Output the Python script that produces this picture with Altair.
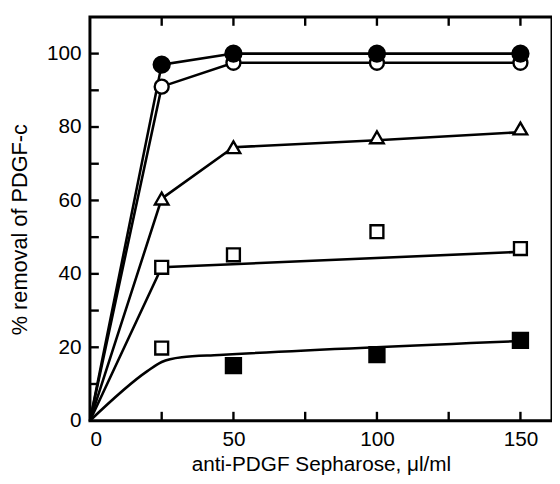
import altair as alt
import pandas as pd

# ---- data ----
x_pts = [0, 25, 50, 100, 150]
filled_circle = [0, 97, 100, 100, 100]
open_circle = [0, 91, 97.5, 97.5, 97.5]

tri_x = [25, 50, 100, 150]
tri_marker = [60.5, 74.5, 77.2, 79.6]
tri_line_x = [0, 25, 50, 100, 150]
tri_line = [0, 60.5, 74.5, 76.4, 78.6]

sq_up_x = [25, 50, 100, 150]
sq_up = [41.8, 45.2, 51.5, 46.9]
sq_up_line_x = [0, 25, 150]
sq_up_line = [0, 41.8, 46.0]

sq_lo_open_x = [25]
sq_lo_open = [19.8]
sq_lo_fill_x = [50, 100, 150]
sq_lo_fill = [15.0, 18.0, 21.9]
lo_curve_x = [0, 20, 25, 32, 45, 150]
lo_curve = [0, 13.5, 16.0, 17.3, 17.9, 21.7]

x_tick_vals = [25, 50, 75, 100, 125, 150]
y_tick_vals = [10, 20, 30, 40, 50, 60, 70, 80, 90, 100]
x_label_vals = [0, 50, 100, 150]
y_label_vals = [0, 20, 40, 60, 80, 100]

W, H = 468, 409
FONT = "Liberation Sans"

xs = alt.Scale(domain=[0, 161], nice=False, zero=False)
ys = alt.Scale(domain=[0, 110], nice=False, zero=False)

def df(xv, yv):
    return pd.DataFrame({"x": xv, "y": yv})

X = alt.X("x:Q", scale=xs,
          axis=alt.Axis(values=x_label_vals, title="anti-PDGF Sepharose, \u03bcl/ml",
                        ticks=False, domain=False, grid=False, labelFontSize=21,
                        labelPadding=8, titleFontSize=21, titleFontWeight="normal",
                        titlePadding=4, labelFont=FONT, titleFont=FONT,
                        labelColor="black", titleColor="black"))
Y = alt.Y("y:Q", scale=ys,
          axis=alt.Axis(values=y_label_vals, title="% removal of PDGF-c",
                        ticks=False, domain=False, grid=False, labelFontSize=21,
                        labelPadding=9, titleFontSize=22, titleFontWeight="normal",
                        titlePadding=15, labelFont=FONT, titleFont=FONT,
                        labelColor="black", titleColor="black", titleY=215))

LW = 2.6

def line(xv, yv, interp="linear"):
    return alt.Chart(df(xv, yv)).mark_line(color="black", strokeWidth=LW,
                                           interpolate=interp).encode(x=X, y=Y)

def pts(xv, yv, shape, filled, size):
    return alt.Chart(df(xv, yv)).mark_point(
        shape=shape, filled=True, size=size,
        fill="black" if filled else "white", stroke="black",
        strokeWidth=2.4, opacity=1).encode(x=X, y=Y)

# inward ticks
xt = pd.DataFrame({"x": x_tick_vals})
yt = pd.DataFrame({"y": y_tick_vals})
tick_bottom = alt.Chart(xt).mark_rule(color="black", strokeWidth=2.4).encode(
    x=X, y=alt.value(H), y2=alt.value(H - 9))
tick_top = alt.Chart(xt).mark_rule(color="black", strokeWidth=2.4).encode(
    x=X, y=alt.value(0), y2=alt.value(9))
tick_left = alt.Chart(yt).mark_rule(color="black", strokeWidth=2.4).encode(
    y=Y, x=alt.value(0), x2=alt.value(9))

chart = alt.layer(
    line(x_pts, open_circle),
    line(x_pts, filled_circle),
    line(tri_line_x, tri_line),
    line(sq_up_line_x, sq_up_line),
    line(lo_curve_x, lo_curve, interp="monotone"),
    tick_bottom, tick_top, tick_left,
    pts(x_pts[1:], open_circle[1:], "circle", False, 200),
    pts(x_pts[1:], filled_circle[1:], "circle", True, 260),
    pts(tri_x, tri_marker, "triangle-up", False, 190),
    pts(sq_up_x, sq_up, "square", False, 170),
    pts(sq_lo_open_x, sq_lo_open, "square", False, 170),
    pts(sq_lo_fill_x, sq_lo_fill, "square", True, 230),
).properties(
    width=W, height=H,
    autosize="none",
    background="white",
    padding={"left": 83, "top": 6, "right": 0, "bottom": 53},
).configure_view(
    stroke="black", strokeWidth=3, fill="white"
)

chart.save("out.html", embed_options={"renderer": "svg", "actions": False})
